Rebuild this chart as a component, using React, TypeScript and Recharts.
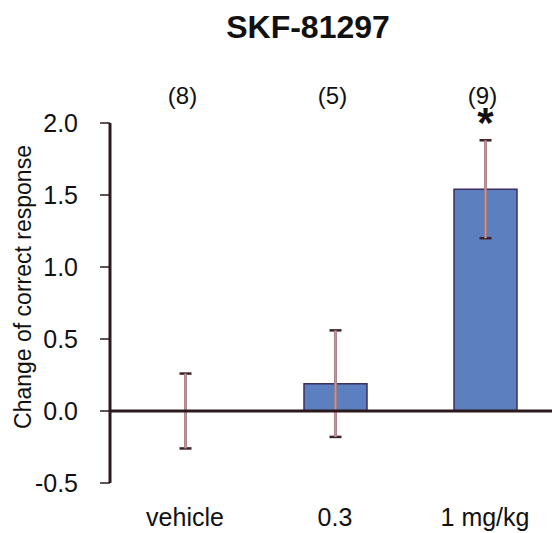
import React from "react";
import { BarChart, Bar, XAxis, YAxis, ErrorBar, ReferenceLine, LabelList, Cell } from "recharts";

const doses = ["vehicle", "0.3", "1 mg/kg"];
const meanChange = [0, 0.19, 1.54];
const semChange = [0.26, 0.37, 0.34];
const groupN = ["(8)", "(5)", "(9)"];
const significance = ["", "", "*"];
const yTicks = [-0.5, 0, 0.5, 1.0, 1.5, 2.0];

const data = doses.map((dose, i) => ({
  dose,
  mean: meanChange[i],
  sem: semChange[i],
  n: groupN[i],
  sig: significance[i],
}));

const font = "'Liberation Sans', Arial, sans-serif";
const ink = "#2a1a1e";

const App: React.FC = () => {
  return (
    <div style={{ position: "fixed", left: 0, top: 0, width: 552, height: 533, overflow: "hidden", background: "#fff", fontFamily: font }}>
      <div
        style={{
          position: "absolute",
          left: 308,
          top: 27,
          transform: "translate(-50%, -50%)",
          fontSize: 32,
          fontWeight: "bold",
          color: "#111",
          whiteSpace: "nowrap",
          lineHeight: 1,
        }}
      >
        SKF-81297
      </div>
      <BarChart
        width={560}
        height={533}
        data={data}
        margin={{ top: 123, right: 0, bottom: 0, left: 50 }}
        barSize={63}
      >
        <XAxis
          dataKey="dose"
          axisLine={false}
          tickLine={false}
          height={50}
          tickMargin={19}
          tick={{ fill: "#111", fontSize: 25, fontFamily: font }}
        />
        <YAxis
          width={60}
          domain={[-0.5, 2]}
          ticks={yTicks}
          tickFormatter={(v: number) => v.toFixed(1)}
          axisLine={{ stroke: ink, strokeWidth: 3 }}
          tickLine={{ stroke: ink, strokeWidth: 1.5 }}
          tickSize={10}
          tickMargin={22}
          tick={{ fill: "#111", fontSize: 25, fontFamily: font }}
          label={{
            content: () => (
              <text
                x={23}
                y={287}
                transform="rotate(-90 23 287)"
                textAnchor="middle"
                dominantBaseline="central"
                fill="#111"
                fontSize={23}
                fontFamily={font}
              >
                Change of correct response
              </text>
            ),
          }}
        />
        <Bar
          dataKey="mean"
          fill="#5b7fbf"
          stroke="#3b2f63"
          strokeWidth={1.5}
          minPointSize={1}
          isAnimationActive={false}
        >
          {data.map((d) => (
            <Cell
              key={d.dose}
              fill={d.mean === 0 ? "none" : "#5b7fbf"}
              stroke={d.mean === 0 ? "none" : "#3b2f63"}
            />
          ))}
          <ErrorBar dataKey="sem" width={6} stroke="#3a2228" strokeWidth={2.5} />
          <ErrorBar dataKey="sem" width={0} stroke="#c4959a" strokeWidth={2.5} />
          <LabelList
            dataKey="n"
            content={(p: any) => (
              <text
                x={p.x + p.width / 2 - 3}
                y={95}
                textAnchor="middle"
                dominantBaseline="central"
                fill="#111"
                fontSize={24}
                fontFamily={font}
              >
                {p.value}
              </text>
            )}
          />
          <LabelList
            dataKey="sig"
            content={(p: any) => (
              <text
                x={p.x + p.width / 2}
                y={137}
                textAnchor="middle"
                fill="#111"
                fontSize={42}
                fontWeight="bold"
                fontFamily={font}
              >
                {p.value}
              </text>
            )}
          />
        </Bar>
        <ReferenceLine y={0} stroke={ink} strokeWidth={3} />
      </BarChart>
    </div>
  );
};

export default App;
